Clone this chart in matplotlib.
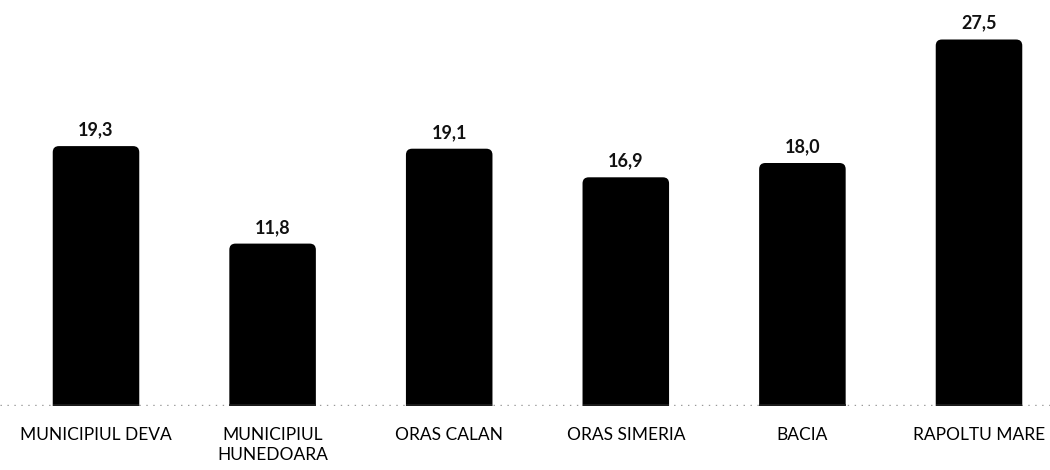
import numpy as np
import matplotlib.pyplot as plt
from matplotlib.patches import FancyBboxPatch

categories = ['MUNICIPIUL DEVA', 'MUNICIPIUL\nHUNEDOARA', 'ORAS CALAN',
              'ORAS SIMERIA', 'BACIA', 'RAPOLTU MARE']
values = [19.3, 11.8, 19.1, 16.9, 18.0, 27.5]
value_labels = ['19,3', '11,8', '19,1', '16,9', '18,0', '27,5']

plt.rcParams['font.family'] = ['Lato', 'DejaVu Sans']

fig = plt.figure(figsize=(10.5, 4.7), dpi=100)
ax = fig.add_axes([0, 64 / 470, 1, 406 / 470])

x = np.arange(len(values))
xmin, xmax = -96 / 176.6, (1050 - 96) / 176.6
ppu = 13.0  # pixels per value unit
ymin, ymax = -9 / ppu, 397 / ppu
ax.set_xlim(xmin, xmax)
ax.set_ylim(ymin, ymax)

bar_w = 0.49
rs = 0.035
# x and y units have very different pixel sizes, so stretch the rounding
aspect = 176.6 / ppu
for xi, v in zip(x, values):
    p = FancyBboxPatch((xi - bar_w / 2, ymin - 2), bar_w, v - ymin + 2,
                       boxstyle=f"round,pad=0,rounding_size={rs}",
                       mutation_aspect=aspect,
                       facecolor='black', edgecolor='none')
    ax.add_patch(p)

for xi, v, lab in zip(x, values, value_labels):
    ax.text(xi, v + 0.6, lab, ha='center', va='bottom',
            fontsize=13, fontweight='bold', color='#111111')

# dotted baseline with a thin dark line under each bar
ax.axhline(ymin + 0.05, color='#999999', lw=1, ls=(0, (1, 4)), zorder=0)
ax.hlines([ymin + 0.05] * len(x), x - bar_w / 2, x + bar_w / 2,
          color='#222222', lw=1.2, zorder=3)

for s in ax.spines.values():
    s.set_visible(False)
ax.set_yticks([])
ax.set_xticks(x)
ax.set_xticklabels(categories, fontsize=12.5, linespacing=1.3, va='top')
ax.tick_params(axis='x', length=0, pad=15)

fig.savefig('out.png', dpi=100, facecolor='white')
